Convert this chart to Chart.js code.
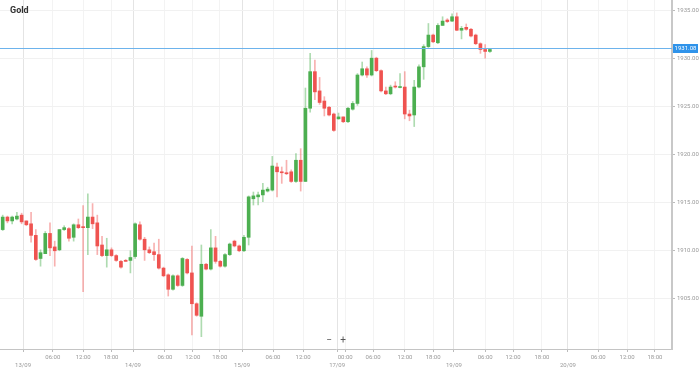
<!DOCTYPE html>
<html>
<head>
<meta charset="utf-8">
<script src="https://cdn.jsdelivr.net/npm/chart.js@4.4.1/dist/chart.umd.min.js"></script>
<style>
  html, body { margin: 0; padding: 0; background: #fff; }
  #wrap { width: 699px; height: 368px; }
</style>
</head>
<body>
<div id="wrap"><canvas id="myChart" width="699" height="368"></canvas></div>
<script>
// hourly candles
const opens = [1912.2,1913.5,1913.1,1913.3,1913.7,1913.1,1912.8,1911.6,1909.2,1909.7,
  1911.8,1910.4,1910.1,1912.2,1912.3,1911.4,1912.7,1912.5,1912.4,1913.5,
  1912.9,1910.6,1909.5,1910.1,1909.5,1908.9,1909.0,1909.0,1909.4,1912.7,
  1911.2,1910.1,1909.9,1909.6,1908.2,1907.5,1906.0,1907.4,1906.4,1909.1,
  1907.7,1904.5,1903.2,1908.6,1908.1,1910.3,1908.9,1908.4,1909.6,1911.0,
  1910.5,1910.0,1911.4,1915.4,1915.6,1915.8,1916.2,1916.3,1918.7,1918.2,
  1918.1,1918.2,1917.2,1919.4,1917.2,1924.8,1928.6,1926.6,1925.55,1924.9,
  1924.2,1923.7,1923.9,1923.4,1924.7,1925.3,1928.25,1928.9,1928.25,1930.0,
  1928.7,1926.6,1926.3,1927.1,1926.95,1927.0,1924.2,1924.1,1927.0,1929.1,
  1931.2,1932.4,1931.6,1933.4,1933.96,1933.85,1934.3,1932.9,1933.2,1933.0,
  1932.4,1931.5,1930.9,1930.7];
const highs = [1913.7,1913.6,1913.6,1914.0,1913.9,1913.1,1914.0,1912.2,1910.1,1912.0,
  1912.9,1911.0,1912.2,1912.6,1912.4,1912.8,1913.3,1914.7,1915.9,1914.9,
  1913.7,1911.5,1911.3,1910.3,1909.6,1909.0,1909.1,1910.0,1912.9,1913.0,
  1911.4,1910.4,1910.8,1911.2,1908.3,1907.6,1907.5,1907.5,1909.3,1909.2,
  1910.5,1904.6,1910.6,1908.7,1912.2,1911.5,1909.0,1909.7,1910.8,1911.1,
  1910.6,1911.6,1915.7,1916.1,1916.1,1917.0,1916.6,1919.8,1919.1,1918.7,
  1919.4,1918.4,1920.1,1920.6,1926.9,1930.5,1929.8,1928.0,1926.0,1925.0,
  1924.3,1924.3,1923.9,1924.9,1925.5,1928.4,1929.6,1929.1,1930.8,1930.1,
  1928.8,1927.0,1927.2,1927.55,1928.4,1928.6,1924.6,1927.7,1929.3,1931.4,
  1933.6,1932.5,1933.6,1934.3,1934.1,1934.6,1934.7,1933.3,1933.55,1933.1,
  1932.5,1931.6,1931.4,1931.0];
const lows = [1912.1,1912.9,1912.8,1913.2,1912.8,1912.6,1910.9,1909.0,1908.4,1909.7,
  1909.5,1908.4,1910.0,1912.1,1911.0,1911.0,1912.3,1905.75,1909.6,1912.3,
  1909.6,1909.4,1908.3,1909.4,1908.9,1908.2,1908.9,1907.7,1909.2,1911.1,
  1909.0,1909.7,1909.0,1908.1,1907.3,1905.3,1905.9,1906.3,1906.3,1907.6,
  1901.25,1903.2,1901.08,1908.0,1908.0,1908.7,1908.3,1908.3,1909.5,1910.4,
  1909.9,1909.9,1910.6,1914.75,1914.75,1915.1,1916.1,1916.2,1915.6,1917.0,
  1917.9,1917.1,1917.1,1916.2,1917.2,1924.4,1925.7,1925.2,1924.0,1924.0,
  1922.4,1923.65,1923.3,1923.3,1924.6,1925.1,1928.15,1928.0,1928.15,1928.6,
  1926.5,1926.2,1926.2,1926.9,1926.9,1923.7,1923.5,1922.9,1926.9,1927.8,
  1931.1,1931.6,1931.5,1933.4,1933.7,1933.8,1932.85,1932.0,1932.9,1932.2,
  1931.4,1930.5,1930.0,1930.6];
const closes = [1913.5,1913.1,1913.5,1913.6,1913.0,1912.7,1911.6,1909.1,1909.8,1911.8,
  1910.3,1910.0,1912.2,1912.4,1911.3,1912.7,1912.4,1912.4,1913.5,1912.8,
  1910.5,1909.5,1910.1,1909.5,1909.0,1908.3,1908.9,1909.3,1912.8,1911.2,
  1910.1,1909.8,1909.6,1908.2,1907.4,1906.0,1907.4,1906.4,1909.2,1907.7,
  1904.5,1903.3,1908.6,1908.1,1910.3,1908.9,1908.4,1909.6,1910.7,1910.5,
  1910.0,1911.4,1915.6,1915.7,1915.8,1916.3,1916.4,1918.8,1918.2,1918.1,
  1918.0,1917.2,1919.4,1917.2,1924.8,1928.6,1926.5,1925.4,1924.8,1924.1,
  1922.5,1923.9,1923.4,1924.8,1925.3,1928.25,1928.9,1928.25,1930.0,1928.7,
  1926.6,1926.3,1927.0,1927.0,1927.05,1924.2,1924.0,1927.0,1929.1,1931.2,
  1932.4,1931.7,1933.4,1933.85,1933.8,1934.3,1932.9,1933.1,1933.0,1932.3,
  1931.5,1930.9,1930.7,1930.9];

// x axis ticks (in candle slots) and their labels
const tickPos = [4.3, 10.6, 17.0, 22.9, 27.55, 34.3, 40.2, 45.9, 50.6, 57.15, 63.5,
  70.7, 72.4, 78.3, 85.05, 91.0, 95.4, 102.0, 107.9, 114.0, 119.5, 125.9, 132.0, 137.9];
const tickLabels = ['13/09','06:00','12:00','18:00','14/09','06:00','12:00','18:00','15/09','06:00','12:00',
  '17/09','00:00','06:00','12:00','18:00','19/09','06:00','12:00','18:00','20/09','06:00','12:00','18:00'];

const yTicks = [1905, 1910, 1915, 1920, 1925, 1930, 1935];
const lastPrice = 1931.08;
const title = 'Gold';

const GREEN = '#4caf50', RED = '#ef5350';
const GREEN_W = 'rgba(76,175,80,0.45)', RED_W = 'rgba(239,83,80,0.45)';
const isUp = i => closes[i] >= opens[i];
const isDate = i => tickLabels[i].includes('/');

const extras = {
    id: 'extras',
    afterDatasetsDraw(chart) {
        const { ctx, chartArea, scales } = chart;
        const y = Math.round(scales.y.getPixelForValue(lastPrice)) + 0.5;
        ctx.save();
        ctx.strokeStyle = '#6db3ec';
        ctx.lineWidth = 1;
        ctx.beginPath();
        ctx.moveTo(chartArea.left, y);
        ctx.lineTo(chartArea.right, y);
        ctx.stroke();
        ctx.fillStyle = '#2f93ea';
        ctx.fillRect(chartArea.right + 1, y - 4.5, 25, 9);
        ctx.fillStyle = '#fff';
        ctx.font = '6px Roboto';
        ctx.textAlign = 'center';
        ctx.textBaseline = 'middle';
        ctx.fillText(lastPrice.toFixed(2), chartArea.right + 13.5, y);

        ctx.fillStyle = '#333';
        ctx.font = 'bold 9px Roboto';
        ctx.textAlign = 'left';
        ctx.fillText(title, 10, 11);

        ctx.fillStyle = '#555';
        ctx.font = '10px Roboto';
        ctx.textAlign = 'center';
        ctx.fillText('\u2212', 329, 340);
        ctx.fillText('+', 343, 340);
        ctx.restore();
    }
};

const ctx = document.getElementById('myChart').getContext('2d');
new Chart(ctx, {
    type: 'bar',
    data: {
        datasets: [{
            label: 'body',
            data: opens.map((o, i) => ({ x: i, y: [o, closes[i]] })),
            backgroundColor: c => isUp(c.dataIndex) ? GREEN : RED,
            barThickness: 3,
            minBarLength: 1,
            grouped: false,
            order: 0
        }, {
            label: 'wick',
            data: lows.map((l, i) => ({ x: i, y: [l, highs[i]] })),
            backgroundColor: c => isUp(c.dataIndex) ? GREEN_W : RED_W,
            barThickness: 1,
            grouped: false,
            order: 1
        }]
    },
    options: {
        responsive: false,
        animation: false,
        layout: { padding: 0 },
        plugins: { legend: { display: false }, tooltip: { enabled: false } },
        scales: {
            x: {
                type: 'linear',
                min: -0.57,
                max: 141.5,
                offset: false,
                afterBuildTicks: s => { s.ticks = tickPos.map(v => ({ value: v })); },
                afterFit: s => { s.height = 19; s.paddingLeft = 0; s.paddingRight = 0; },
                ticks: {
                    autoSkip: false,
                    maxRotation: 0,
                    padding: 1,
                    color: '#999',
                    font: { family: 'Roboto', size: 6, lineHeight: 1.35 },
                    callback: (v, i) => isDate(i) ? ['', tickLabels[i]] : tickLabels[i]
                },
                grid: {
                    offset: false,
                    color: c => (c.index !== undefined && isDate(c.index)) ? '#e4e4e4' : '#f3f3f3',
                    tickColor: '#bbb',
                    tickLength: 3
                },
                border: { display: true, color: '#c4c4c4', width: 1 }
            },
            y: {
                position: 'right',
                min: 1899.8,
                max: 1936.04,
                afterBuildTicks: s => { s.ticks = yTicks.map(v => ({ value: v })); },
                afterFit: s => { s.width = 27; s.paddingTop = 0; s.paddingBottom = 0; },
                ticks: {
                    padding: 2,
                    color: '#999',
                    font: { family: 'Roboto', size: 6 },
                    callback: v => v.toFixed(2)
                },
                grid: { color: '#f1f1f1', tickColor: '#bbb', tickLength: 3 },
                border: { display: true, color: '#c8c8c8', width: 2 }
            }
        }
    },
    plugins: [extras]
});
</script>
</body>
</html>
